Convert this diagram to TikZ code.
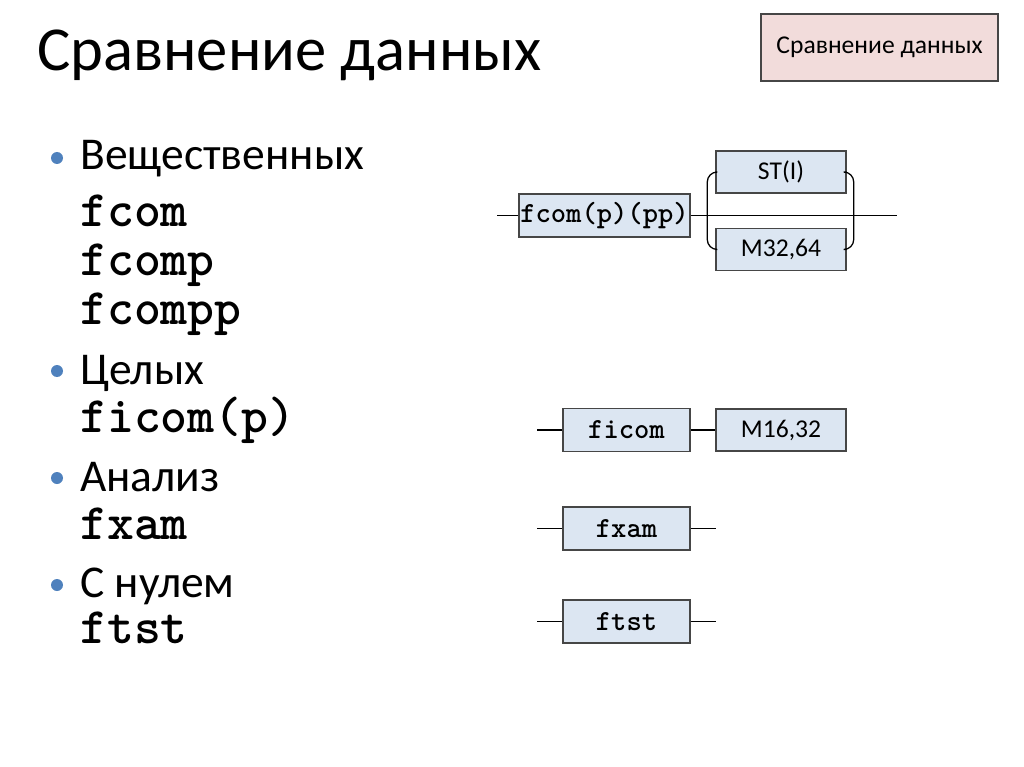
\documentclass[tikz,border=0pt]{standalone}
\usepackage{fontspec}
\setmainfont{Carlito}
\definecolor{boxblue}{RGB}{220,230,242}
\definecolor{boxpink}{RGB}{242,220,219}
\definecolor{bulletblue}{RGB}{79,129,189}
\definecolor{edge}{RGB}{70,70,70}
\tikzset{
  cmd/.style={draw=edge,fill=boxblue,line width=1pt,inner sep=0pt,minimum height=30.2pt,font=\fontsize{20.5}{22}\selectfont\ttfamily\bfseries},
  arg/.style={draw=edge,fill=boxblue,line width=1pt,inner sep=0pt,minimum width=91.4pt,minimum height=29.5pt,font=\fontsize{18}{20}\selectfont},
  txt/.style={anchor=base west,inner sep=0pt,text depth=0pt,font=\fontsize{32}{34}\selectfont},
  code/.style={anchor=base west,inner sep=0pt,text height=0.62em,font=\fontsize{36}{38}\selectfont\ttfamily\bfseries},
  wire/.style={line width=0.9pt,black}
}
\begin{document}
\begin{tikzpicture}[x=0.703125pt,y=-0.703125pt]
\useasboundingbox (0,0) rectangle (1024,767);
\node[anchor=base west,inner sep=0pt,font=\fontsize{44}{46}\selectfont] (title) at (37,71) {Сравнение данных};
\node[draw=edge,fill=boxpink,line width=1pt,minimum width=166.6pt,minimum height=47.1pt,font=\fontsize{18}{20}\selectfont] (hdr) at (879.5,47.5) {Сравнение данных};
% list
\foreach \y in {158,371,478,585} \fill[bulletblue] (57,\y) circle (6);
\node[txt] (real) at (80,170) {Вещественных};
\node[code] (c1) at (80,227) {fcom};
\node[code] (c2) at (80,275) {fcomp};
\node[code] (c3) at (80,324) {fcompp};
\node[txt] (int) at (80,384) {Целых};
\node[code] (c4) at (80,432) {ficom(p)};
\node[txt] (anl) at (80,491) {Анализ};
\node[code] (c5) at (80,539) {fxam};
\node[txt] (zero) at (80,597) {С нулем};
\node[code] (c6) at (80,643) {ftst};
% syntax diagrams
\coordinate (in1) at (497,215.5);
\coordinate (out1) at (897,215.5);
\node[cmd,minimum width=120.2pt] (fcom) at (604.5,215.5) {fcom(p)(pp)};
\node[arg] (st) at (781,172) {ST(I)};
\node[arg] (m32) at (781,249.5) {M32,64};
\draw[wire] (in1) -- (fcom.west);
\draw[wire] (fcom.east) -- (out1);
\draw[wire,rounded corners=7] (st.west) -- ++(-8,0) |- (m32.west);
\draw[wire,rounded corners=7] (st.east) -- ++(7,0) |- (m32.east);
\node[cmd,minimum width=89.3pt] (ficom) at (626.5,430) {ficom};
\node[arg] (m16) at (781,430) {M16,32};
\coordinate (in2) at (537,430);
\draw[wire] (in2) -- (ficom.west);
\draw[wire] (ficom.east) -- (m16.west);
\node[cmd,minimum width=89.3pt] (fxam) at (626.5,528.5) {fxam};
\coordinate (in3) at (537,528.5);
\coordinate (out3) at (716,528.5);
\draw[wire] (in3) -- (fxam.west);
\draw[wire] (fxam.east) -- (out3);
\node[cmd,minimum width=89.3pt] (ftst) at (626.5,621.5) {ftst};
\coordinate (in4) at (537,621.5);
\coordinate (out4) at (716,621.5);
\draw[wire] (in4) -- (ftst.west);
\draw[wire] (ftst.east) -- (out4);
\end{tikzpicture}
\end{document}
